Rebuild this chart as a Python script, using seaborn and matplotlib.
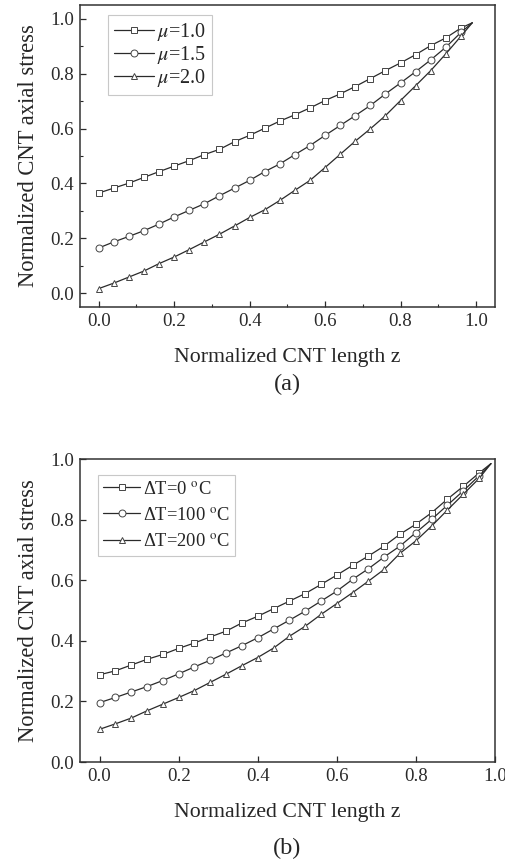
import numpy as np
import pandas as pd
import seaborn as sns
import matplotlib.pyplot as plt
from matplotlib.ticker import MultipleLocator

# z positions of the markers, the curves end near z=1 without a marker
z = [0.00, 0.04, 0.08, 0.12, 0.16, 0.20, 0.24, 0.28, 0.32, 0.36, 0.40, 0.44,
     0.48, 0.52, 0.56, 0.60, 0.64, 0.68, 0.72, 0.76, 0.80, 0.84, 0.88, 0.92,
     0.96, 0.99]

# (a) friction coefficient mu
mu10 = [0.365, 0.383, 0.401, 0.422, 0.443, 0.463, 0.483, 0.505, 0.524, 0.552,
        0.575, 0.601, 0.627, 0.650, 0.675, 0.702, 0.726, 0.753, 0.782, 0.811,
        0.839, 0.869, 0.902, 0.930, 0.966, 0.985]
mu15 = [0.165, 0.187, 0.207, 0.228, 0.252, 0.278, 0.302, 0.326, 0.355, 0.383,
        0.411, 0.443, 0.471, 0.505, 0.538, 0.575, 0.611, 0.647, 0.684, 0.726,
        0.766, 0.807, 0.850, 0.896, 0.950, 0.985]
mu20 = [0.017, 0.037, 0.059, 0.081, 0.108, 0.132, 0.159, 0.187, 0.215, 0.245,
        0.276, 0.304, 0.338, 0.375, 0.411, 0.458, 0.506, 0.554, 0.599, 0.647,
        0.702, 0.756, 0.811, 0.872, 0.936, 0.985]

# (b) temperature change
dT0 = [0.288, 0.301, 0.320, 0.339, 0.355, 0.375, 0.393, 0.413, 0.432, 0.459,
       0.481, 0.506, 0.531, 0.556, 0.586, 0.617, 0.649, 0.680, 0.713, 0.752,
       0.785, 0.823, 0.868, 0.910, 0.954, 0.985]
dT100 = [0.196, 0.213, 0.231, 0.249, 0.269, 0.291, 0.314, 0.336, 0.360, 0.384,
         0.410, 0.439, 0.468, 0.498, 0.531, 0.564, 0.603, 0.638, 0.677, 0.713,
         0.757, 0.801, 0.848, 0.895, 0.945, 0.985]
dT200 = [0.108, 0.126, 0.145, 0.169, 0.191, 0.213, 0.236, 0.263, 0.290, 0.318,
         0.345, 0.376, 0.415, 0.448, 0.487, 0.523, 0.559, 0.597, 0.636, 0.689,
         0.730, 0.779, 0.832, 0.884, 0.936, 0.985]

labels_a = [r"$\mu$=1.0", r"$\mu$=1.5", r"$\mu$=2.0"]
labels_b = [r"ΔT=0 $^{\rm o}$C", r"ΔT=100 $^{\rm o}$C", r"ΔT=200 $^{\rm o}$C"]
markers = ["s", "o", "^"]

sns.set_style("ticks")
plt.rcParams["font.family"] = ["Liberation Serif", "DejaVu Serif"]
plt.rcParams["mathtext.fontset"] = "stix"

fig = plt.figure(figsize=(5.05, 8.68), dpi=100)
ax_a = fig.add_axes([0.158, 0.6463, 0.822, 0.348])
ax_b = fig.add_axes([0.158, 0.1221, 0.822, 0.349])

ink = "#2a2a2a"


def draw(ax, series, labels, anchor, legsize, legspace):
    for ys, lab, m in zip(series, labels, markers):
        df = pd.DataFrame({"z": z, "s": ys})
        sns.lineplot(data=df, x="z", y="s", ax=ax, label=lab, color=ink,
                     linewidth=0.9, marker=m, markersize=5,
                     markerfacecolor="white", markeredgecolor="#444444",
                     markeredgewidth=0.7, markevery=list(range(len(z) - 1)))
    ax.set_xlabel("Normalized CNT length z", fontsize=15.7, labelpad=13)
    ax.set_ylabel("Normalized CNT axial stress", fontsize=16.3, labelpad=8)
    ax.tick_params(direction="in", length=4, width=0.9, labelsize=13.6,
                   colors=ink, pad=4, top=False, right=False)
    for sp in ax.spines.values():
        sp.set_visible(True)
        sp.set_linewidth(1.1)
        sp.set_color("#333333")
    leg = ax.legend(loc="upper left", bbox_to_anchor=anchor, fontsize=legsize,
                    handlelength=2.0, handletextpad=0.15,
                    labelspacing=legspace, borderpad=0.3, borderaxespad=0,
                    fancybox=False, framealpha=1)
    leg.get_frame().set_edgecolor("#c8c8c8")
    leg.get_frame().set_linewidth(0.8)


draw(ax_a, [mu10, mu15, mu20], labels_a, (0.0675, 0.967), 14.5, 0.05)
ax_a.set_xlim(-0.05, 1.05)
ax_a.set_ylim(-0.05, 1.05)
ax_a.set_xticks(np.arange(0, 1.01, 0.2))
ax_a.set_yticks(np.arange(0, 1.01, 0.2))
ax_a.xaxis.set_minor_locator(MultipleLocator(0.1))
ax_a.yaxis.set_minor_locator(MultipleLocator(0.1))
ax_a.tick_params(which="minor", direction="in", length=2.2, width=0.8,
                 top=False, right=False)
ax_a.xaxis.set_major_formatter(plt.FormatStrFormatter("%.1f"))
ax_a.yaxis.set_major_formatter(plt.FormatStrFormatter("%.1f"))

draw(ax_b, [dT0, dT100, dT200], labels_b, (0.043, 0.947), 13.3, 0.5)
ax_b.set_xlim(-0.05, 1.0)
ax_b.set_ylim(0.0, 1.0)
ax_b.set_xticks(np.arange(0, 1.01, 0.2))
ax_b.set_yticks(np.arange(0, 1.01, 0.2))
ax_b.xaxis.set_major_formatter(plt.FormatStrFormatter("%.1f"))
ax_b.yaxis.set_major_formatter(plt.FormatStrFormatter("%.1f"))

fig.text(0.569, 1 - 384 / 868, "(a)", ha="center", va="center", fontsize=17.5)
fig.text(0.569, 1 - 848 / 868, "(b)", ha="center", va="center", fontsize=17.5)

fig.savefig("out.png", dpi=100)
